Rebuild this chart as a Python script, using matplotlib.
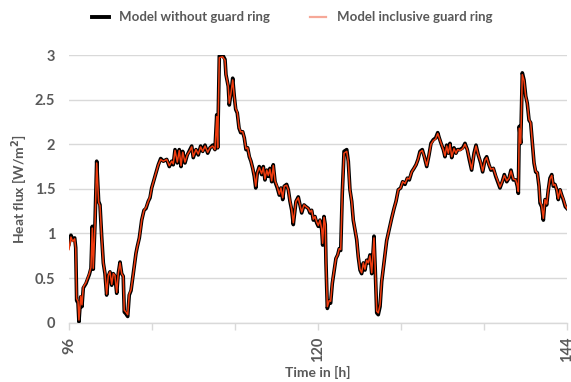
import numpy as np
import matplotlib.pyplot as plt
from matplotlib.lines import Line2D

# time axis in hours
time_h = [
    96.00, 96.19, 96.36, 96.55, 96.65, 96.74, 96.87, 96.96, 97.13, 97.25,
    97.38, 97.64, 97.96, 98.12, 98.25, 98.34, 98.51, 98.67, 98.86, 98.99,
    99.15, 99.31, 99.47, 99.63, 99.79, 99.95, 100.12, 100.27, 100.43, 100.60,
    100.75, 100.92, 101.08, 101.23, 101.33, 101.49, 101.66, 101.81, 101.98, 102.20,
    102.46, 102.58, 102.78, 103.01, 103.23, 103.42, 103.64, 103.81, 103.97, 104.29,
    104.61, 104.84, 105.09, 105.42, 105.67, 105.90, 106.05, 106.22, 106.44, 106.63,
    106.80, 106.96, 107.18, 107.40, 107.66, 107.83, 107.98, 108.24, 108.46, 108.69,
    108.89, 109.11, 109.37, 109.59, 109.85, 110.07, 110.24, 110.33, 110.49, 110.81,
    111.04, 111.13, 111.35, 111.45, 111.61, 111.78, 111.93, 112.07, 112.22, 112.39,
    112.55, 112.74, 112.90, 113.06, 113.22, 113.38, 113.54, 113.71, 113.86, 114.00,
    114.15, 114.34, 114.57, 114.73, 114.89, 115.06, 115.21, 115.37, 115.54, 115.69,
    115.86, 116.08, 116.27, 116.43, 116.60, 116.75, 116.98, 117.14, 117.30, 117.47,
    117.62, 117.88, 118.10, 118.27, 118.43, 118.65, 118.84, 119.07, 119.23, 119.39,
    119.55, 119.71, 119.87, 120.03, 120.19, 120.36, 120.45, 120.58, 120.70, 120.77,
    120.90, 121.09, 121.22, 121.38, 121.57, 121.73, 121.90, 122.05, 122.19, 122.34,
    122.51, 122.77, 122.92, 123.08, 123.25, 123.40, 123.57, 123.73, 123.88, 124.05,
    124.21, 124.37, 124.53, 124.69, 124.85, 125.01, 125.18, 125.40, 125.52, 125.66,
    125.81, 125.98, 126.14, 126.36, 126.62, 126.87, 127.10, 127.33, 127.52, 127.74,
    127.97, 128.16, 128.39, 128.61, 128.80, 129.03, 129.25, 129.45, 129.64, 129.83,
    130.05, 130.25, 130.48, 130.70, 130.89, 131.11, 131.34, 131.54, 131.69, 131.86,
    132.08, 132.24, 132.40, 132.56, 132.72, 132.89, 133.11, 133.30, 133.46, 133.69,
    133.95, 134.17, 134.39, 134.58, 134.81, 135.04, 135.23, 135.45, 135.68, 135.87,
    136.10, 136.26, 136.48, 136.67, 136.90, 137.13, 137.32, 137.54, 137.76, 137.96,
    138.19, 138.41, 138.60, 138.82, 139.06, 139.21, 139.31, 139.40, 139.54, 139.69,
    139.86, 140.02, 140.17, 140.34, 140.50, 140.66, 140.82, 140.98, 141.14, 141.30,
    141.40, 141.56, 141.72, 141.88, 142.04, 142.20, 142.36, 142.53, 142.68, 142.84,
    143.01, 143.16, 143.33, 143.49, 143.64, 143.84, 144.00,
]

# heat flux [W/m2], model without guard ring
flux_without = [
    0.88, 0.98, 0.93, 0.95, 0.84, 0.25, 0.22, 0.01, 0.29, 0.18,
    0.39, 0.44, 0.54, 0.61, 1.08, 0.60, 1.12, 1.81, 1.36, 1.32,
    0.97, 0.67, 0.55, 0.31, 0.52, 0.57, 0.42, 0.55, 0.52, 0.33,
    0.55, 0.68, 0.55, 0.52, 0.12, 0.10, 0.07, 0.31, 0.36, 0.55,
    0.78, 0.85, 0.95, 1.15, 1.26, 1.28, 1.36, 1.40, 1.51, 1.64,
    1.77, 1.84, 1.81, 1.83, 1.75, 1.81, 1.77, 1.94, 1.79, 1.94,
    1.75, 1.92, 1.79, 1.88, 1.94, 1.98, 1.85, 1.94, 1.88, 1.98,
    1.92, 1.99, 1.90, 1.96, 1.99, 1.94, 2.33, 1.96, 2.99, 3.00,
    2.95, 2.78, 2.65, 2.44, 2.57, 2.74, 2.54, 2.39, 2.35, 2.18,
    2.13, 2.14, 2.07, 1.94, 1.96, 1.86, 1.81, 1.73, 1.64, 1.51,
    1.68, 1.75, 1.66, 1.75, 1.60, 1.71, 1.64, 1.73, 1.58, 1.77,
    1.58, 1.51, 1.43, 1.51, 1.38, 1.53, 1.55, 1.49, 1.36, 1.26,
    1.10, 1.36, 1.41, 1.32, 1.23, 1.32, 1.30, 1.28, 1.23, 1.26,
    1.15, 1.19, 1.12, 1.08, 1.15, 1.04, 0.87, 1.19, 1.10, 0.67,
    0.16, 0.24, 0.22, 0.44, 0.59, 0.72, 0.76, 0.83, 0.81, 1.45,
    1.92, 1.94, 1.81, 1.49, 1.36, 1.15, 1.04, 0.93, 0.74, 0.59,
    0.55, 0.67, 0.59, 0.70, 0.67, 0.76, 0.55, 0.97, 0.59, 0.11,
    0.09, 0.18, 0.46, 0.67, 0.92, 1.05, 1.17, 1.28, 1.36, 1.49,
    1.51, 1.58, 1.55, 1.62, 1.60, 1.69, 1.73, 1.77, 1.83, 1.92,
    1.94, 1.86, 1.75, 1.88, 2.01, 2.05, 2.07, 2.13, 2.07, 2.01,
    1.94, 1.86, 1.99, 1.90, 2.01, 1.85, 1.96, 1.90, 1.94, 1.94,
    1.96, 2.01, 1.94, 1.83, 1.71, 1.90, 1.99, 1.88, 1.79, 1.69,
    1.83, 1.86, 1.77, 1.71, 1.73, 1.64, 1.58, 1.51, 1.58, 1.66,
    1.58, 1.62, 1.71, 1.60, 1.60, 1.53, 1.45, 2.20, 2.01, 2.80,
    2.72, 2.54, 2.46, 2.27, 2.24, 2.01, 1.79, 1.69, 1.68, 1.53,
    1.34, 1.30, 1.15, 1.38, 1.32, 1.49, 1.62, 1.66, 1.53, 1.55,
    1.49, 1.38, 1.49, 1.43, 1.38, 1.30, 1.28,
]

# heat flux [W/m2], model inclusive guard ring
flux_with = [
    0.82, 0.96, 0.91, 0.94, 0.83, 0.27, 0.24, 0.03, 0.30, 0.20,
    0.40, 0.45, 0.55, 0.62, 1.06, 0.61, 1.10, 1.79, 1.35, 1.31,
    0.96, 0.67, 0.56, 0.32, 0.53, 0.57, 0.43, 0.55, 0.53, 0.34,
    0.55, 0.67, 0.55, 0.52, 0.14, 0.12, 0.09, 0.32, 0.37, 0.55,
    0.78, 0.85, 0.95, 1.15, 1.26, 1.29, 1.36, 1.41, 1.51, 1.64,
    1.77, 1.83, 1.81, 1.83, 1.76, 1.81, 1.78, 1.93, 1.80, 1.93,
    1.76, 1.91, 1.80, 1.88, 1.93, 1.97, 1.86, 1.94, 1.89, 1.97,
    1.92, 1.98, 1.91, 1.96, 1.98, 1.94, 2.31, 1.96, 2.97, 2.98,
    2.94, 2.78, 2.65, 2.46, 2.57, 2.72, 2.54, 2.40, 2.36, 2.19,
    2.14, 2.14, 2.07, 1.95, 1.96, 1.87, 1.81, 1.73, 1.65, 1.53,
    1.68, 1.74, 1.67, 1.74, 1.61, 1.71, 1.65, 1.72, 1.59, 1.76,
    1.59, 1.52, 1.44, 1.51, 1.40, 1.53, 1.54, 1.49, 1.37, 1.27,
    1.12, 1.36, 1.40, 1.32, 1.24, 1.32, 1.30, 1.28, 1.24, 1.26,
    1.16, 1.19, 1.13, 1.09, 1.15, 1.05, 0.89, 1.18, 1.10, 0.68,
    0.18, 0.25, 0.24, 0.45, 0.60, 0.72, 0.76, 0.83, 0.82, 1.44,
    1.90, 1.92, 1.80, 1.49, 1.36, 1.16, 1.05, 0.94, 0.75, 0.60,
    0.56, 0.67, 0.60, 0.70, 0.67, 0.75, 0.56, 0.95, 0.60, 0.13,
    0.11, 0.20, 0.47, 0.67, 0.92, 1.05, 1.17, 1.28, 1.36, 1.49,
    1.51, 1.58, 1.56, 1.62, 1.61, 1.69, 1.73, 1.77, 1.83, 1.91,
    1.93, 1.86, 1.76, 1.88, 2.00, 2.04, 2.06, 2.12, 2.07, 2.01,
    1.94, 1.87, 1.98, 1.90, 2.00, 1.86, 1.95, 1.90, 1.94, 1.93,
    1.95, 2.00, 1.94, 1.84, 1.72, 1.89, 1.98, 1.88, 1.80, 1.70,
    1.82, 1.85, 1.77, 1.72, 1.73, 1.65, 1.59, 1.52, 1.58, 1.65,
    1.59, 1.62, 1.70, 1.61, 1.60, 1.54, 1.47, 2.18, 2.01, 2.78,
    2.71, 2.54, 2.46, 2.28, 2.24, 2.02, 1.80, 1.70, 1.68, 1.54,
    1.36, 1.31, 1.17, 1.38, 1.33, 1.49, 1.61, 1.65, 1.54, 1.55,
    1.49, 1.39, 1.49, 1.43, 1.39, 1.31, 1.28,
]

y_ticks = [0, 0.5, 1, 1.5, 2, 2.5, 3]
y_tick_labels = ['0', '0.5', '1', '1.5', '2', '2.5', '3']
x_labelled = [96, 120, 144]
x_minor = [104, 112, 128, 136]

label_grey = '#595959'
plt.rcParams['font.family'] = ['Lato', 'DejaVu Sans']
plt.rcParams['font.weight'] = 'bold'

fig = plt.figure(figsize=(5.71, 3.82), dpi=100)
ax = fig.add_axes([0.1208, 0.1552, 0.8722, 0.7008])

ax.plot(time_h, flux_without, color='black', lw=2.6, solid_joinstyle='round', zorder=3)
ax.plot(time_h, flux_with, color='#f03c0f', lw=1.1, solid_joinstyle='round', zorder=4)

ax.set_xlim(96, 144)
ax.set_ylim(0, 3)
ax.set_yticks(y_ticks)
ax.set_yticklabels(y_tick_labels)
ax.set_xticks(x_labelled)
ax.set_xticks(x_minor, minor=True)
ax.set_xticklabels([str(v) for v in x_labelled], rotation=90)

ax.grid(axis='y', color='#d9d9d9', lw=1.0)
ax.set_axisbelow(True)
for side in ['top', 'right', 'left']:
    ax.spines[side].set_visible(False)
ax.spines['bottom'].set_color('#d9d9d9')
ax.spines['bottom'].set_linewidth(1.0)

ax.tick_params(axis='y', length=0, pad=10, labelsize=10.5, labelcolor=label_grey)
ax.tick_params(axis='x', which='both', length=5, width=1.0, color='#d9d9d9',
               pad=5, labelsize=10.5, labelcolor=label_grey)

ax.set_ylabel('Heat flux [W/m$^\\mathbf{2}$]', fontsize=10, color=label_grey,
              fontweight='bold', labelpad=3)
ax.set_xlabel('Time in [h]', fontsize=10, color=label_grey,
              fontweight='bold', labelpad=3)

handles = [Line2D([], [], color='black', lw=2.8),
           Line2D([], [], color='#f6a898', lw=1.6)]
fig.legend(handles, ['Model without guard ring', 'Model inclusive guard ring'],
           loc='center', bbox_to_anchor=(0.512, 0.955), ncol=2, frameon=False,
           labelcolor=label_grey, handlelength=1.25,
           columnspacing=3.0, handletextpad=0.8,
           prop={'family': ['Lato', 'DejaVu Sans'], 'weight': 'bold', 'size': 9.5})

fig.savefig('out.png', dpi=100)
